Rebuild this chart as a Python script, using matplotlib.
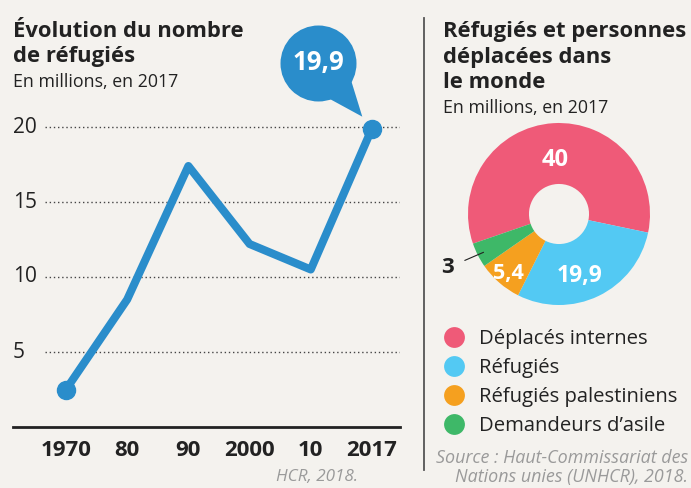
import numpy as np
import matplotlib.pyplot as plt
import matplotlib.transforms as mtransforms
from matplotlib.lines import Line2D

plt.rcParams["font.family"] = ["Open Sans", "DejaVu Sans"]

# --- données ---
years = ["1970", "80", "90", "2000", "10", "2017"]
refugees = [2.5, 8.5, 17.4, 12.2, 10.5, 19.9]
y_ticks = [5, 10, 15, 20]

categories = ["Déplacés internes", "Réfugiés", "Réfugiés palestiniens", "Demandeurs d’asile"]
values = [40, 19.9, 5.4, 3]
value_labels = ["40", "19,9", "5,4", "3"]
colors = ["#EF5A78", "#53C9F3", "#F5A01F", "#3EB868"]

BG = "#F4F2EE"
BLUE = "#2A8DCB"
INK = "#222222"
GREY = "#9A9A9A"
W, H = 691, 488

fig = plt.figure(figsize=(W / 100, H / 100), dpi=100, facecolor=BG)


def fx(px):
    return px / W


def fy(py):
    return 1 - py / H


# --- graphique de gauche : courbe ---
ax = fig.add_axes([fx(13), fy(427), fx(400 - 13), (427 - 115) / H])
ax.set_facecolor("none")
x = list(range(len(years)))
ax.plot(x, refugees, color=BLUE, lw=5.8, solid_capstyle="round", zorder=3)
ax.plot([x[0], x[-1]], [refugees[0], refugees[-1]], "o", color=BLUE, ms=13, zorder=4)
ax.set_xlim(-0.866, 5.458)
ax.set_ylim(0, 312 / 15)
for t in y_ticks:
    ax.axhline(t, xmin=0.083, xmax=1, color="#444", lw=1.0, ls=(0, (1, 2)), zorder=1)
    ax.text(0.0, t, str(t), transform=ax.get_yaxis_transform(), ha="left", va="center",
            fontsize=15, color=INK)
ax.set_xticks(x, years, fontsize=16, fontweight="bold", color=INK)
ax.tick_params(axis="x", length=0, pad=9)
ax.set_yticks([])
for s in ["top", "right", "left"]:
    ax.spines[s].set_visible(False)
ax.spines["bottom"].set_linewidth(2)
ax.spines["bottom"].set_color(INK)

# bulle 19,9 (décalée au-dessus du dernier point)
off = mtransforms.ScaledTranslation(-0.54, 0.66, fig.dpi_scale_trans)
ax.plot(x[-1], refugees[-1], "o", ms=76 / 1.389, color=BLUE, mec="none",
        transform=ax.transData + off, clip_on=False, zorder=5)
ax.annotate("19,9", xy=(x[-1], refugees[-1]), xytext=(-54 / 1.389, 66 / 1.389),
            textcoords="offset points", ha="center", va="center", fontsize=18.5,
            fontweight="bold", color="white",
            arrowprops=dict(arrowstyle="wedge,tail_width=1.55", fc=BLUE, ec="none",
                            shrinkA=0, shrinkB=11), zorder=6)

fig.text(fx(13), fy(37), "Évolution du nombre", fontsize=15.8, fontweight="bold",
         color=INK, ha="left", va="baseline")
fig.text(fx(13), fy(62), "de réfugiés", fontsize=15.8, fontweight="bold",
         color=INK, ha="left", va="baseline")
fig.text(fx(13), fy(87), "En millions, en 2017", fontsize=12.8, color=INK, ha="left", va="baseline")
fig.text(fx(358), fy(477), "HCR, 2018.", fontsize=12.3, style="italic", color=GREY,
         ha="right", va="center")

# séparateur
fig.add_artist(Line2D([fx(424), fx(424)], [fy(18), fy(470)], color="#555", lw=1.3))

# --- graphique de droite : anneau ---
R = 91
pax = fig.add_axes([fx(559 - R), fy(214 + R), 2 * R / W, 2 * R / H])
pax.set_facecolor("none")
wedges, _ = pax.pie(values, colors=colors, startangle=199, counterclock=False, radius=1,
                    wedgeprops=dict(width=0.67, edgecolor="none"))
pax.set_xlim(-1, 1)
pax.set_ylim(-1, 1)
pax.set_aspect("equal")
pax.axis("off")

label_r = [0.6, 0.72, 0.86]
label_shift = [0, -7, 1]
label_size = [17, 16.5, 15.5]
for w, lab, r, d, fs in zip(wedges[:3], value_labels[:3], label_r, label_shift, label_size):
    ang = np.deg2rad((w.theta1 + w.theta2) / 2 + d)
    pax.text(r * np.cos(ang), r * np.sin(ang), lab, ha="center", va="center",
             fontsize=fs, fontweight="bold", color="white")
g = wedges[3]
ang = np.deg2rad((g.theta1 + g.theta2) / 2)
pax.annotate(value_labels[3], xy=(0.93 * np.cos(ang), 0.93 * np.sin(ang)), xytext=(-1.22, -0.59),
             ha="center", va="center", fontsize=16, fontweight="bold", color=INK,
             arrowprops=dict(arrowstyle="-", color=INK, lw=0.8, shrinkA=6, shrinkB=0),
             annotation_clip=False)

for i, line in enumerate(["Réfugiés et personnes", "déplacées dans", "le monde"]):
    fig.text(fx(443), fy(37 + 25.5 * i), line, fontsize=15.8, fontweight="bold",
             color=INK, ha="left", va="baseline")
fig.text(fx(443), fy(113), "En millions, en 2017", fontsize=12.8, color=INK, ha="left", va="baseline")

handles = [Line2D([], [], ls="none", marker="o", ms=15, mfc=c, mec="none") for c in colors]
fig.legend(handles, categories, loc="upper left", bbox_to_anchor=(fx(444), fy(329)),
           frameon=False, fontsize=14.6, handlelength=1.0, handletextpad=0.75,
           labelspacing=0.44, borderpad=0, borderaxespad=0, labelcolor=INK)

fig.text(fx(688), fy(458), "Source : Haut-Commissariat des", fontsize=12.9, style="italic",
         color=GREY, ha="right", va="center")
fig.text(fx(688), fy(477), "Nations unies (UNHCR), 2018.", fontsize=12.9, style="italic",
         color=GREY, ha="right", va="center")

fig.savefig("out.png", dpi=100, facecolor=BG)
